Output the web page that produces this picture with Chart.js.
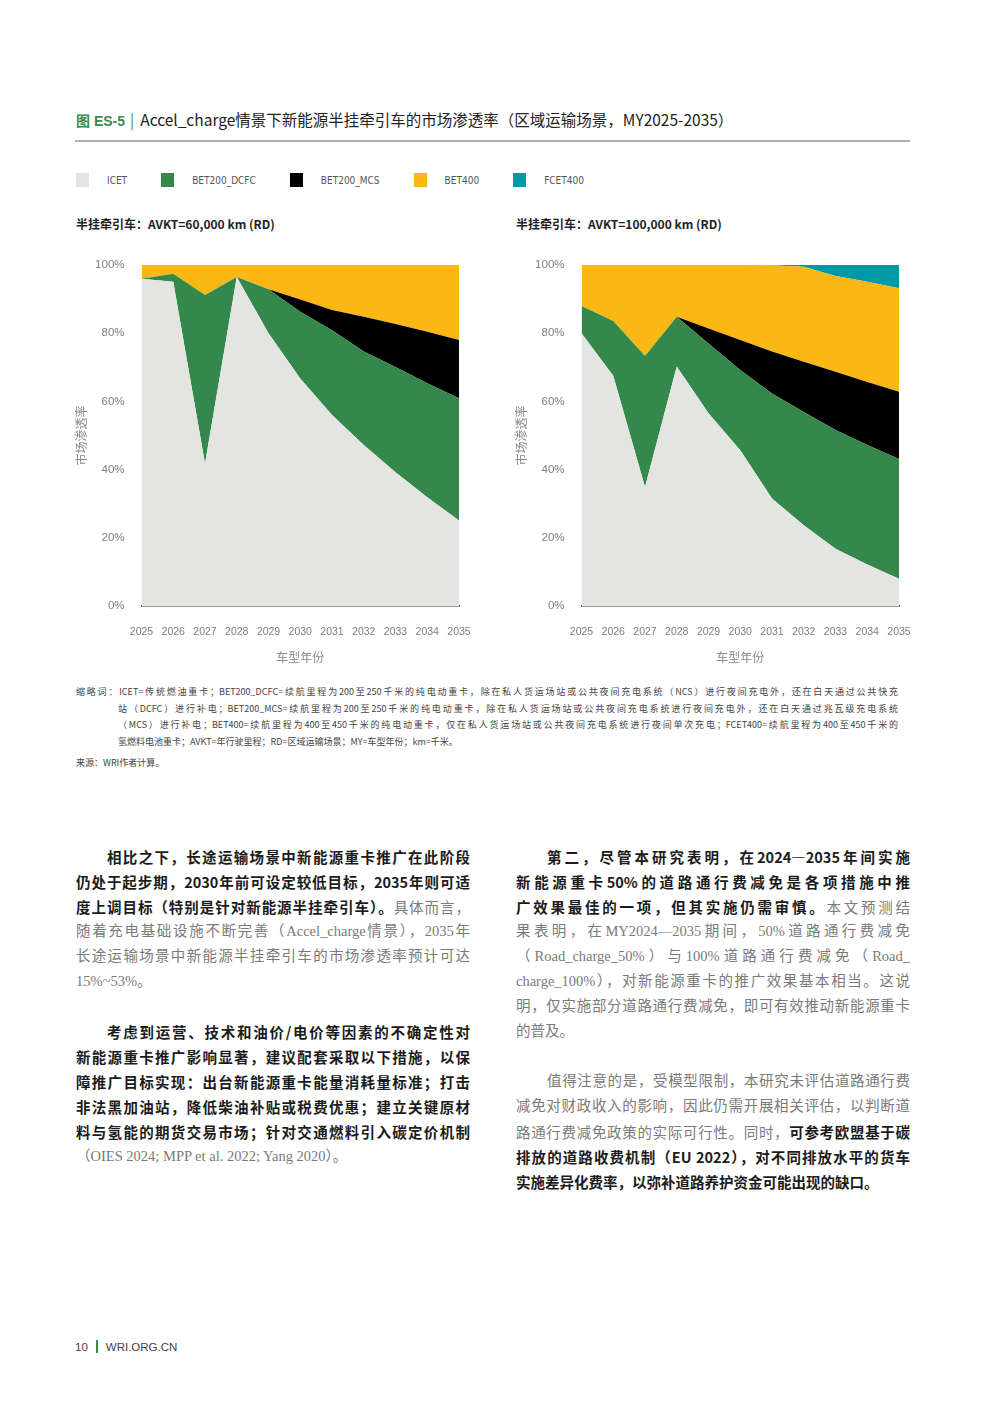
<!DOCTYPE html>
<html lang="zh-CN">
<head>
<meta charset="utf-8">
<script src="https://cdn.jsdelivr.net/npm/chart.js@4.4.1/dist/chart.umd.min.js"></script>
<style>
  body { margin: 0; background: #fff; width: 992px; height: 1403px; position: relative; overflow: hidden;
         font-family: 'Noto Sans CJK SC', sans-serif; color: #222; }
  .abs { position: absolute; }
  #title { left: 76px; top: 108px; font-size: 15.5px; white-space: nowrap; color: #222; }
  #title .fig { color: #3a8b4c; font-weight: 700; font-size: 14px; font-family: 'Liberation Sans', 'Noto Sans CJK SC', sans-serif; }
  #title .bar { color: #3a8b4c; margin: 0 6px 0 5px; }
  #rule { left: 75px; top: 140px; width: 835px; height: 2px; background: #b0b0b0; }
  #legend { left: 76px; top: 173px; display: flex; align-items: center; }
  .lg-item { display: flex; align-items: center; margin-right: 34px; }
  .lg-box { width: 13px; height: 14px; margin-right: 18px; }
  .lg-text { font-family: 'Liberation Sans Narrow', 'DejaVu Sans Condensed', 'Liberation Sans', sans-serif; font-size: 10px; color: #555; }
  .sub { top: 215px; font-size: 12px; font-weight: 700; color: #222; white-space: nowrap; }
  .chartbox { top: 250px; width: 410px; height: 425px; }
  #notes { left: 76px; top: 684px; width: 822px; font-size: 9px; line-height: 16.6px; color: #444; }
  #notes div { white-space: nowrap; text-align: justify; text-align-last: justify; }
  #notes .ind { margin-left: 42px; }
  #notes .left { text-align-last: left; }
  #source { left: 76px; top: 756px; font-size: 9px; color: #444; }
  .col { top: 843.5px; width: 394px; font-size: 14.5px; line-height: 25px; }
  .col div { white-space: nowrap; text-align: justify; text-align-last: justify; height: 25px; }
  .col .first { padding-left: 31px; }
  .col .last { text-align-last: left; }
  .col .gap { height: 25px; }
  .b { font-weight: 700; color: #1b1b1b; }
  .g { color: #7a7a7a; font-family: 'Liberation Serif', 'Noto Sans CJK SC', serif; }
  #footer { left: 75px; top: 1340px; font-size: 11.5px; color: #444; font-family: 'Liberation Sans', sans-serif; }
  #footer .bar { display: inline-block; width: 2px; height: 13px; background: #3a8b4c; margin: 0 8px 0 8px; vertical-align: -2px; }
</style>
</head>
<body>

<div id="title" class="abs"><span class="fig">图 ES-5</span><span class="bar">|</span>Accel_charge情景下新能源半挂牵引车的市场渗透率（区域运输场景，MY2025-2035）</div>
<div id="rule" class="abs"></div>
<div id="legend" class="abs"></div>

<div class="abs sub" style="left:76px">半挂牵引车：AVKT=60,000 km (RD)</div>
<div class="abs sub" style="left:516px">半挂牵引车：AVKT=100,000 km (RD)</div>

<div class="abs chartbox" style="left:70px"><canvas id="chart-rd60" width="410" height="425"></canvas></div>
<div class="abs chartbox" style="left:510px"><canvas id="chart-rd100" width="410" height="425"></canvas></div>

<div id="notes" class="abs">
  <div>缩略词：ICET=传统燃油重卡；BET200_DCFC=续航里程为200至250千米的纯电动重卡，除在私人货运场站或公共夜间充电系统（NCS）进行夜间充电外，还在白天通过公共快充</div>
  <div class="ind">站（DCFC）进行补电；BET200_MCS=续航里程为200至250千米的纯电动重卡，除在私人货运场站或公共夜间充电系统进行夜间充电外，还在白天通过兆瓦级充电系统</div>
  <div class="ind">（MCS）进行补电；BET400=续航里程为400至450千米的纯电动重卡，仅在私人货运场站或公共夜间充电系统进行夜间单次充电；FCET400=续航里程为400至450千米的</div>
  <div class="ind left">氢燃料电池重卡；AVKT=年行驶里程；RD=区域运输场景；MY=车型年份；km=千米。</div>
</div>
<div id="source" class="abs">来源：WRI作者计算。</div>

<div class="abs col" style="left:76px">
  <div class="first b">相比之下，长途运输场景中新能源重卡推广在此阶段</div>
  <div class="b">仍处于起步期，2030年前可设定较低目标，2035年则可适</div>
  <div><span class="b">度上调目标（特别是针对新能源半挂牵引车）。</span><span class="g">具体而言，</span></div>
  <div class="g">随着充电基础设施不断完善（Accel_charge情景），2035年</div>
  <div class="g">长途运输场景中新能源半挂牵引车的市场渗透率预计可达</div>
  <div class="g last">15%~53%。</div>
  <div class="gap"></div>
  <div class="first b">考虑到运营、技术和油价/电价等因素的不确定性对</div>
  <div class="b">新能源重卡推广影响显著，建议配套采取以下措施，以保</div>
  <div class="b">障推广目标实现：出台新能源重卡能量消耗量标准；打击</div>
  <div class="b">非法黑加油站，降低柴油补贴或税费优惠；建立关键原材</div>
  <div class="b">料与氢能的期货交易市场；针对交通燃料引入碳定价机制</div>
  <div class="g last">（OIES 2024; MPP et al. 2022; Yang 2020）。</div>
</div>

<div class="abs col" style="left:516px">
  <div class="first b">第二，尽管本研究表明，在2024—2035年间实施</div>
  <div class="b">新能源重卡50%的道路通行费减免是各项措施中推</div>
  <div><span class="b">广效果最佳的一项，但其实施仍需审慎。</span><span class="g">本文预测结</span></div>
  <div class="g">果表明，在MY2024—2035期间，50%道路通行费减免</div>
  <div class="g">（Road_charge_50%）与100%道路通行费减免（Road_</div>
  <div class="g">charge_100%），对新能源重卡的推广效果基本相当。这说</div>
  <div class="g">明，仅实施部分道路通行费减免，即可有效推动新能源重卡</div>
  <div class="g last">的普及。</div>
  <div class="gap"></div>
  <div class="first g">值得注意的是，受模型限制，本研究未评估道路通行费</div>
  <div class="g">减免对财政收入的影响，因此仍需开展相关评估，以判断道</div>
  <div><span class="g">路通行费减免政策的实际可行性。同时，</span><span class="b">可参考欧盟基于碳</span></div>
  <div class="b">排放的道路收费机制（EU 2022），对不同排放水平的货车</div>
  <div class="b last">实施差异化费率，以弥补道路养护资金可能出现的缺口。</div>
</div>

<div id="footer" class="abs">10<span class="bar"></span>WRI.ORG.CN</div>

<script>
// 车型年份
const years = ["2025", "2026", "2027", "2028", "2029", "2030", "2031", "2032", "2033", "2034", "2035"];
const yTicks = [0, 20, 40, 60, 80, 100];
const seriesNames = ["ICET", "BET200_DCFC", "BET200_MCS", "BET400", "FCET400"];
const seriesColors = ["#e4e5e0", "#34884b", "#000000", "#fbb715", "#0097a7"];

// AVKT=60,000 km (RD) 市场渗透率 %
const rd60Icet    = [96.0, 95.1, 41.8, 96.5, 80.0, 66.7, 56.0, 47.2, 39.2, 31.9, 25.1];
const rd60Dcfc    = [0.0, 2.3, 49.4, 0.0, 12.9, 19.6, 24.9, 27.4, 30.9, 33.4, 35.8];
const rd60Mcs     = [0.0, 0.0, 0.0, 0.0, 0.0, 3.6, 5.9, 10.2, 12.6, 15.1, 17.1];
const rd60Bet400  = [4.0, 2.6, 8.8, 3.5, 7.1, 10.1, 13.2, 15.2, 17.3, 19.6, 22.0];
const rd60Fcet400 = [0, 0, 0, 0, 0, 0, 0, 0, 0, 0, 0];

// AVKT=100,000 km (RD) 市场渗透率 %
const rd100Icet    = [80.0, 67.5, 34.9, 70.2, 56.5, 45.7, 31.5, 23.7, 16.8, 12.2, 8.0];
const rd100Dcfc    = [8.0, 16.1, 38.4, 14.6, 20.5, 23.5, 30.8, 33.2, 34.8, 35.0, 35.1];
const rd100Mcs     = [0.0, 0.0, 0.0, 0.0, 4.4, 8.8, 12.3, 14.7, 17.1, 18.5, 19.7];
const rd100Bet400  = [12.0, 16.4, 26.7, 15.2, 18.6, 22.0, 25.3, 27.9, 28.1, 29.4, 30.4];
const rd100Fcet400 = [0.0, 0.0, 0.0, 0.0, 0.0, 0.0, 0.1, 0.5, 3.2, 4.9, 6.8];

const xTickFont = { family: "'Liberation Sans', 'Noto Sans CJK SC', sans-serif", size: 10.5 };
const yTickFont = { family: "'Liberation Sans', 'Noto Sans CJK SC', sans-serif", size: 11.5 };
const cjkFont = { family: "'Noto Sans CJK SC', sans-serif", size: 12 };

// 图例 (两张图共用)
const legendEl = document.getElementById("legend");
seriesNames.forEach((name, i) => {
  const item = document.createElement("div");
  item.className = "lg-item";
  item.innerHTML = `<span class="lg-box" style="background:${seriesColors[i]}"></span><span class="lg-text">${name}</span>`;
  legendEl.appendChild(item);
});

function renderChart(canvasId, series) {
  const ctx = document.getElementById(canvasId).getContext("2d");
  return new Chart(ctx, {
    type: "line",
    data: {
      labels: years,
      datasets: seriesNames.map((name, i) => ({
        label: name,
        data: series[i],
        backgroundColor: seriesColors[i],
        borderColor: i === 4 ? "rgba(0,151,167,0.3)" : seriesColors[i],
        borderWidth: i === 4 ? 1 : 0,
        pointRadius: 0,
        fill: i === 0 ? "origin" : "-1",
        tension: 0,
      })),
    },
    options: {
      responsive: false,
      animation: false,
      layout: { padding: { top: 15, right: 21, bottom: 0, left: 0 } },
      plugins: { legend: { display: false }, tooltip: { enabled: false } },
      scales: {
        x: {
          offset: false,
          grid: { display: false, drawTicks: false },
          border: { display: true, color: "#333", width: 1.5 },
          ticks: { color: "#7d7d7d", font: xTickFont, padding: 20, maxRotation: 0, autoSkip: false },
          title: { display: true, text: "车型年份", color: "#8a8a8a", font: cjkFont, padding: { top: 0, bottom: 10 } },
          afterFit: (scale) => {
            scale.height = 69;
            scale.paddingLeft = 0;
            scale.paddingRight = 12;
          },
        },
        y: {
          stacked: true,
          min: 0,
          max: 100,
          grid: { display: false, drawTicks: false },
          border: { display: false },
          afterBuildTicks: (scale) => { scale.ticks = yTicks.map((v) => ({ value: v })); },
          ticks: { color: "#7d7d7d", font: yTickFont, padding: 17, callback: (v) => v + "%" },
          title: { display: true, text: "市场渗透率", color: "#8a8a8a", font: cjkFont, padding: { top: 4, bottom: 0 } },
          afterFit: (scale) => {
            scale.width = 71.5;
            scale.paddingTop = 7;
            scale.paddingBottom = 0;
          },
        },
      },
    },
  });
}

renderChart("chart-rd60", [rd60Icet, rd60Dcfc, rd60Mcs, rd60Bet400, rd60Fcet400]);
renderChart("chart-rd100", [rd100Icet, rd100Dcfc, rd100Mcs, rd100Bet400, rd100Fcet400]);
</script>
</body>
</html>
